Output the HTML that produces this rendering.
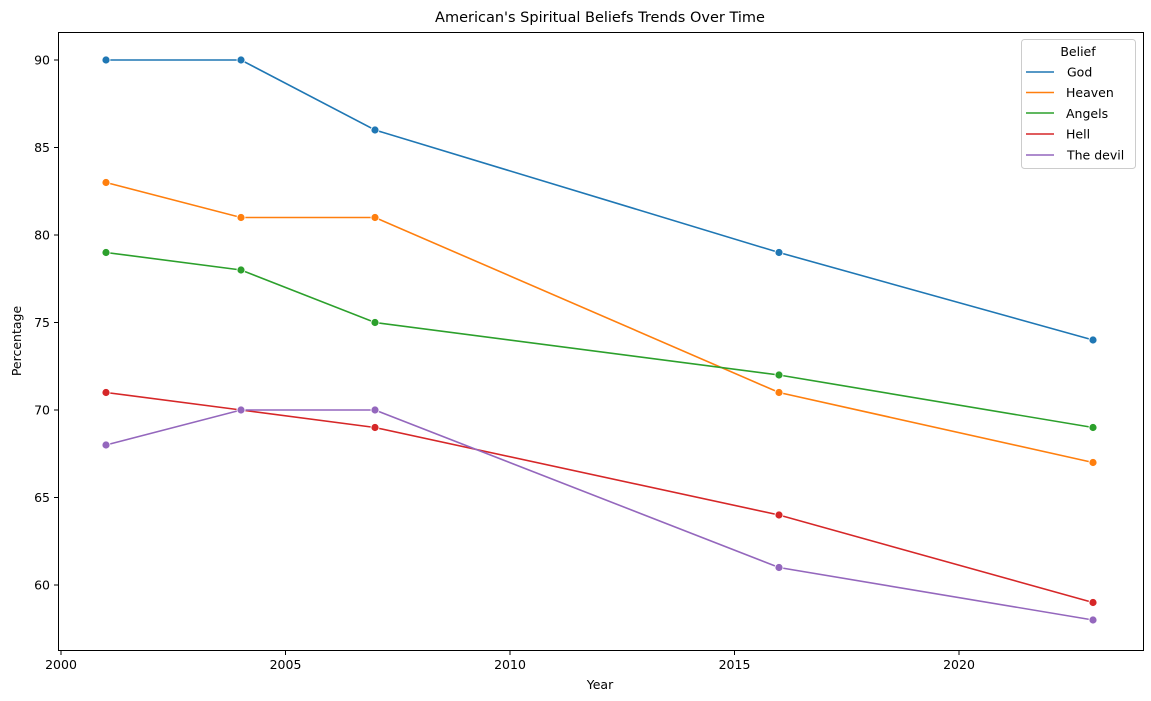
<!DOCTYPE html>
<html><head><meta charset="utf-8"><style>body{margin:0;background:#fff}svg{display:block}text{font-family:"DejaVu Sans","Liberation Sans",sans-serif;fill:#000}</style></head>
<body>
<svg width="1151" height="701" xmlns="http://www.w3.org/2000/svg">
<rect width="1151" height="701" fill="#fff"/>
<text x="600" y="22" font-size="14.5" text-anchor="middle">American's Spiritual Beliefs Trends Over Time</text>
<g stroke="#000" stroke-width="1" fill="none">
<rect x="58.5" y="32.5" width="1085" height="618"/>
</g>
<g font-size="12.5" text-anchor="end">
<g stroke="#000"><line x1="54" x2="58" y1="60" y2="60"/><line x1="54" x2="58" y1="147.5" y2="147.5"/><line x1="54" x2="58" y1="235" y2="235"/><line x1="54" x2="58" y1="322.5" y2="322.5"/><line x1="54" x2="58" y1="410" y2="410"/><line x1="54" x2="58" y1="497.5" y2="497.5"/><line x1="54" x2="58" y1="585" y2="585"/></g>
<text x="50" y="64.5">90</text><text x="50" y="152">85</text><text x="50" y="239.5">80</text><text x="50" y="327">75</text><text x="50" y="414.5">70</text><text x="50" y="502">65</text><text x="50" y="589.5">60</text>
</g>
<g font-size="12.5" text-anchor="middle">
<g stroke="#000"><line x1="61" x2="61" y1="651" y2="655"/><line x1="285.5" x2="285.5" y1="651" y2="655"/><line x1="510" x2="510" y1="651" y2="655"/><line x1="734.5" x2="734.5" y1="651" y2="655"/><line x1="959" x2="959" y1="651" y2="655"/></g>
<text x="61" y="669">2000</text><text x="285.5" y="669">2005</text><text x="510" y="669">2010</text><text x="734.5" y="669">2015</text><text x="959" y="669">2020</text>
</g>
<text x="600" y="689" font-size="12.5" text-anchor="middle">Year</text>
<text transform="translate(21,341) rotate(-90)" font-size="12.5" text-anchor="middle">Percentage</text>
<g fill="none" stroke-width="1.6">
<polyline stroke="#1f77b4" points="106,60 241,60 375,130 779,252.5 1093,340"/>
<polyline stroke="#ff7f0e" points="106,182.5 241,217.5 375,217.5 779,392.5 1093,462.5"/>
<polyline stroke="#2ca02c" points="106,252.5 241,270 375,322.5 779,375 1093,427.5"/>
<polyline stroke="#d62728" points="106,392.5 241,410 375,427.5 779,515 1093,602.5"/>
<polyline stroke="#9467bd" points="106,445 241,410 375,410 779,567.5 1093,620"/>
</g>
<g stroke="#fff" stroke-width="0.8">
<g fill="#1f77b4"><circle cx="106" cy="60" r="4"/><circle cx="241" cy="60" r="4"/><circle cx="375" cy="130" r="4"/><circle cx="779" cy="252.5" r="4"/><circle cx="1093" cy="340" r="4"/></g>
<g fill="#ff7f0e"><circle cx="106" cy="182.5" r="4"/><circle cx="241" cy="217.5" r="4"/><circle cx="375" cy="217.5" r="4"/><circle cx="779" cy="392.5" r="4"/><circle cx="1093" cy="462.5" r="4"/></g>
<g fill="#2ca02c"><circle cx="106" cy="252.5" r="4"/><circle cx="241" cy="270" r="4"/><circle cx="375" cy="322.5" r="4"/><circle cx="779" cy="375" r="4"/><circle cx="1093" cy="427.5" r="4"/></g>
<g fill="#d62728"><circle cx="106" cy="392.5" r="4"/><circle cx="241" cy="410" r="4"/><circle cx="375" cy="427.5" r="4"/><circle cx="779" cy="515" r="4"/><circle cx="1093" cy="602.5" r="4"/></g>
<g fill="#9467bd"><circle cx="106" cy="445" r="4"/><circle cx="241" cy="410" r="4"/><circle cx="375" cy="410" r="4"/><circle cx="779" cy="567.5" r="4"/><circle cx="1093" cy="620" r="4"/></g>
</g>
<rect x="1021.5" y="39.5" width="114" height="129" rx="3" fill="#fff" fill-opacity="0.8" stroke="#ccc"/>
<text x="1078" y="56" font-size="12.5" text-anchor="middle">Belief</text>
<g stroke-width="1.6">
<line x1="1026" x2="1054" y1="72" y2="72" stroke="#1f77b4"/>
<line x1="1026" x2="1054" y1="92.5" y2="92.5" stroke="#ff7f0e"/>
<line x1="1026" x2="1054" y1="113" y2="113" stroke="#2ca02c"/>
<line x1="1026" x2="1054" y1="134" y2="134" stroke="#d62728"/>
<line x1="1026" x2="1054" y1="155" y2="155" stroke="#9467bd"/>
</g>
<g font-size="12.5">
<text x="1067" y="76.5">God</text><text x="1066" y="97">Heaven</text><text x="1066" y="118">Angels</text><text x="1066" y="138.5">Hell</text><text x="1067" y="159.5">The devil</text>
</g>
</svg>
</body></html>
